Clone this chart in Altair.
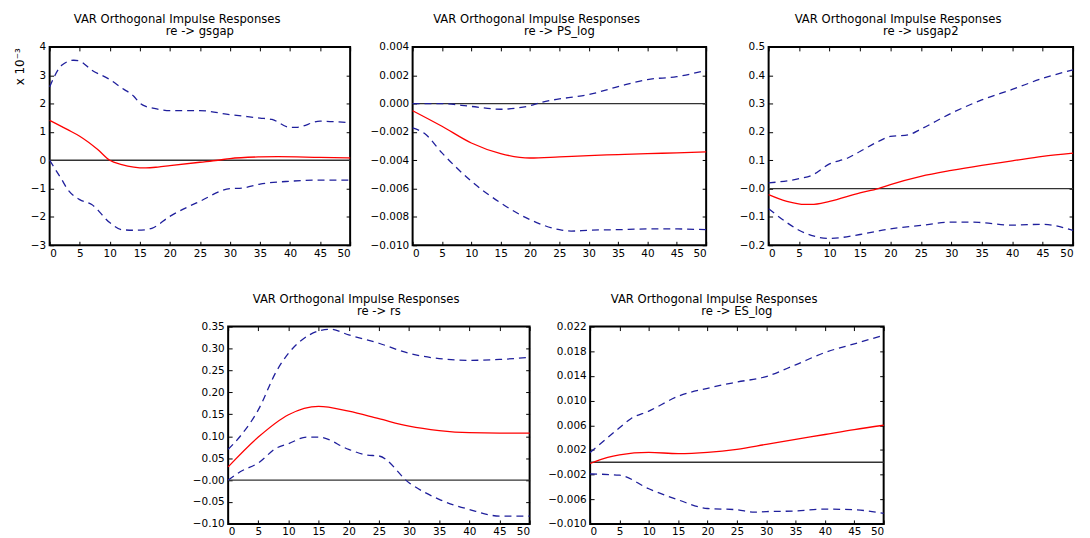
import altair as alt
import pandas as pd

# ---------------- data ----------------
TITLE = "VAR Orthogonal Impulse Responses"
SUBTITLES = ["re -> gsgap", "re -> PS_log", "re -> usgap2", "re -> rs", "re -> ES_log"]

X_TICKS = [0, 5, 10, 15, 20, 25, 30, 35, 40, 45, 50]

# Panel 1 (units of 1e-3)
P1_MID_X = [0, 3, 5, 8, 10, 12, 14, 16, 18, 20, 25, 28, 30, 35, 38, 45, 50]
P1_MID_Y = [1.41, 1.08, 0.85, 0.38, 0.0, -0.15, -0.24, -0.27, -0.24, -0.19, -0.07, 0.0, 0.06, 0.12, 0.13, 0.10, 0.08]
P1_HI_X = [0, 2, 4, 5, 7, 10, 12, 14, 15, 16, 17, 20, 25, 30, 35, 37, 40, 41, 45, 50]
P1_HI_Y = [2.59, 3.35, 3.53, 3.5, 3.18, 2.85, 2.55, 2.26, 2.02, 1.9, 1.85, 1.75, 1.75, 1.61, 1.49, 1.44, 1.16, 1.16, 1.38, 1.32]
P1_LO_X = [0, 2, 3, 5, 7, 10, 12, 14, 16, 17, 20, 25, 30, 32, 35, 40, 45, 50]
P1_LO_Y = [0.0, -0.68, -1.03, -1.39, -1.56, -2.2, -2.45, -2.47, -2.45, -2.4, -1.98, -1.45, -1.0, -0.98, -0.84, -0.74, -0.7, -0.7]

# Panel 2
P2_MID_X = [0, 5, 10, 15, 20, 25, 30, 35, 40, 45, 50]
P2_MID_Y = [-0.0005, -0.0016, -0.00278, -0.00353, -0.00384, -0.00376, -0.00367, -0.0036, -0.00353, -0.00348, -0.00341]
P2_HI_X = [0, 5, 10, 15, 18, 20, 22, 25, 28, 30, 35, 40, 45, 50]
P2_HI_Y = [0.0, 0.0, -0.0002, -0.0004, -0.0003, -0.00015, 0.0001, 0.00033, 0.0005, 0.00064, 0.0012, 0.0017, 0.0019, 0.00235]
P2_LO_X = [0, 2, 5, 10, 15, 20, 25, 27, 30, 35, 40, 45, 50]
P2_LO_Y = [-0.00172, -0.0021, -0.00348, -0.00548, -0.00701, -0.00819, -0.0089, -0.009, -0.00894, -0.0089, -0.00885, -0.00885, -0.0089]

# Panel 3
P3_MID_X = [0, 3, 6, 7, 10, 15, 18, 20, 25, 30, 35, 40, 45, 50]
P3_MID_Y = [-0.021, -0.045, -0.056, -0.056, -0.045, -0.015, 0.0, 0.014, 0.043, 0.064, 0.082, 0.098, 0.114, 0.125]
P3_HI_X = [0, 5, 7, 10, 13, 15, 18, 20, 23, 25, 30, 35, 40, 45, 50]
P3_HI_Y = [0.02, 0.035, 0.046, 0.087, 0.108, 0.131, 0.166, 0.184, 0.19, 0.21, 0.266, 0.313, 0.35, 0.389, 0.419]
P3_LO_X = [0, 3, 5, 7, 10, 15, 20, 25, 30, 33, 35, 40, 45, 50]
P3_LO_Y = [-0.071, -0.12, -0.147, -0.165, -0.176, -0.162, -0.142, -0.13, -0.118, -0.118, -0.12, -0.129, -0.126, -0.148]

# Panel 4
P4_MID_X = [0, 5, 10, 15, 20, 25, 30, 35, 40, 45, 50]
P4_MID_Y = [0.03, 0.098, 0.149, 0.168, 0.157, 0.14, 0.123, 0.113, 0.108, 0.107, 0.107]
P4_HI_X = [0, 2, 5, 8, 10, 12, 15, 17, 20, 25, 30, 35, 40, 45, 50]
P4_HI_Y = [0.07, 0.1, 0.16, 0.248, 0.289, 0.317, 0.34, 0.344, 0.331, 0.312, 0.289, 0.277, 0.273, 0.275, 0.28]
P4_LO_X = [0, 2, 5, 8, 10, 13, 15, 20, 23, 25, 30, 35, 40, 45, 50]
P4_LO_Y = [0.0, 0.019, 0.039, 0.073, 0.083, 0.098, 0.098, 0.07, 0.057, 0.055, -0.006, -0.044, -0.067, -0.082, -0.082]

# Panel 5
P5_MID_X = [0, 3, 5, 10, 15, 20, 25, 30, 35, 40, 45, 50]
P5_MID_Y = [-0.0002, 0.0008, 0.0012, 0.0016, 0.0014, 0.0016, 0.0021, 0.0029, 0.0037, 0.0045, 0.0053, 0.006]
P5_HI_X = [0, 3, 5, 7, 10, 15, 20, 25, 30, 35, 40, 45, 50]
P5_HI_Y = [0.0016, 0.004, 0.0056, 0.0071, 0.0083, 0.0107, 0.012, 0.013, 0.0139, 0.0158, 0.0178, 0.0192, 0.0206]
P5_LO_X = [0, 5, 10, 15, 20, 25, 28, 30, 35, 40, 45, 50]
P5_LO_Y = [-0.0019, -0.0021, -0.0043, -0.0061, -0.0075, -0.0077, -0.0081, -0.008, -0.0079, -0.0076, -0.0077, -0.0083]

# y-axis ticks and their labels
P1_TICKS = [-3, -2, -1, 0, 1, 2, 3, 4]
P1_LABELS = ["−3", "−2", "−1", "0", "1", "2", "3", "4"]
P2_TICKS = [-0.010, -0.008, -0.006, -0.004, -0.002, 0.0, 0.002, 0.004]
P2_LABELS = ["−0.010", "−0.008", "−0.006", "−0.004", "−0.002", "0.000", "0.002", "0.004"]
P3_TICKS = [-0.2, -0.1, 0.0, 0.1, 0.2, 0.3, 0.4, 0.5]
P3_LABELS = ["−0.2", "−0.1", "−0.0", "0.1", "0.2", "0.3", "0.4", "0.5"]
P4_TICKS = [-0.10, -0.05, 0.0, 0.05, 0.10, 0.15, 0.20, 0.25, 0.30, 0.35]
P4_LABELS = ["−0.10", "−0.05", "−0.00", "0.05", "0.10", "0.15", "0.20", "0.25", "0.30", "0.35"]
P5_TICKS = [-0.010, -0.006, -0.002, 0.002, 0.006, 0.010, 0.014, 0.018, 0.022]
P5_LABELS = ["−0.010", "−0.006", "−0.002", "0.002", "0.006", "0.010", "0.014", "0.018", "0.022"]

FONT = "DejaVu Sans"
RED = "#ff0000"
BLUE = "#1f1f9c"


def label_expr(values, labels):
    v = ",".join(repr(float(t)) for t in values)
    lab = ",".join("'" + s + "'" for s in labels)
    return f"[{lab}][indexof([{v}], datum.value)]"


def panel(mid, hi, lo, ydom, yticks, ylabels, sub, w, h, exp_label=None):
    rows = []
    for name, (xs, ys) in (("mid", mid), ("hi", hi), ("lo", lo)):
        for a, b in zip(xs, ys):
            rows.append({"step": a, "val": b, "series": name})
    df = pd.DataFrame(rows)
    xscale = alt.Scale(domain=[0, 50], nice=False, zero=False)
    yscale = alt.Scale(domain=ydom, nice=False, zero=False)

    x_axis = alt.Axis(values=X_TICKS, format="d", domain=False, grid=False,
                      tickSize=4, offset=-4, tickColor="black", labelPadding=3,
                      labelFont=FONT, labelFontSize=10.5, labelColor="black", title=None)
    y_axis = alt.Axis(values=yticks, labelExpr=label_expr(yticks, ylabels), domain=False,
                      grid=False, tickSize=4, offset=-4, tickColor="black", labelPadding=4,
                      labelFont=FONT, labelFontSize=10.5, labelColor="black", title=None)
    x_top = alt.Axis(values=X_TICKS, orient="top", labels=False, domain=False, grid=False,
                     tickSize=4, offset=-4, tickColor="black", title=None)
    y_right = alt.Axis(values=yticks, orient="right", labels=False, domain=False, grid=False,
                       tickSize=4, offset=-4, tickColor="black", title=None)

    base = alt.Chart(df)
    zero = alt.Chart(pd.DataFrame({"z": [0.0]})).mark_rule(color="#333333", strokeWidth=1.3).encode(
        y=alt.Y("z:Q", scale=yscale, axis=None))
    red = base.transform_filter("datum.series == 'mid'").mark_line(
        color=RED, strokeWidth=1.3, interpolate="monotone").encode(
        x=alt.X("step:Q", scale=xscale, axis=x_axis),
        y=alt.Y("val:Q", scale=yscale, axis=y_axis))
    blue = base.transform_filter("datum.series != 'mid'").mark_line(
        color=BLUE, strokeWidth=1.3, strokeDash=[7, 5], interpolate="monotone").encode(
        x=alt.X("step:Q", scale=xscale, axis=None),
        y=alt.Y("val:Q", scale=yscale, axis=None),
        detail="series:N")
    ghost = base.transform_filter("datum.series == 'mid'").mark_line(opacity=0).encode(
        x=alt.X("step:Q", scale=xscale, axis=x_top),
        y=alt.Y("val:Q", scale=yscale, axis=y_right))
    tdf = pd.DataFrame({"t1": [TITLE], "t2": [sub]})
    t1 = alt.Chart(tdf).mark_text(font=FONT, fontSize=11.7, align="center", baseline="alphabetic",
                                  color="black").encode(
        text="t1:N", x=alt.value(w / 2 - 23), y=alt.value(-24))
    t2 = alt.Chart(tdf).mark_text(font=FONT, fontSize=11.7, align="center", baseline="alphabetic",
                                  color="black").encode(
        text="t2:N", x=alt.value(w / 2), y=alt.value(-12))
    layers = [zero, red, blue, ghost, t1, t2]
    if exp_label:
        edf = pd.DataFrame({"e": [exp_label]})
        layers.append(alt.Chart(edf).mark_text(font=FONT, fontSize=12, angle=270, align="center",
                                               baseline="middle", color="black").encode(
            text="e:N", x=alt.value(-30), y=alt.value(20)))
    return alt.layer(*layers).resolve_axis(x="independent", y="independent").properties(
        width=w, height=h)


H = 200
p1 = panel((P1_MID_X, P1_MID_Y), (P1_HI_X, P1_HI_Y), (P1_LO_X, P1_LO_Y), [-3, 4],
           P1_TICKS, P1_LABELS, SUBTITLES[0], 303, H, exp_label="x 10⁻³")
p2 = panel((P2_MID_X, P2_MID_Y), (P2_HI_X, P2_HI_Y), (P2_LO_X, P2_LO_Y), [-0.010, 0.004],
           P2_TICKS, P2_LABELS, SUBTITLES[1], 296, H)
p3 = panel((P3_MID_X, P3_MID_Y), (P3_HI_X, P3_HI_Y), (P3_LO_X, P3_LO_Y), [-0.2, 0.5],
           P3_TICKS, P3_LABELS, SUBTITLES[2], 307, H)
p4 = panel((P4_MID_X, P4_MID_Y), (P4_HI_X, P4_HI_Y), (P4_LO_X, P4_LO_Y), [-0.10, 0.35],
           P4_TICKS, P4_LABELS, SUBTITLES[3], 304, H - 1)
p5 = panel((P5_MID_X, P5_MID_Y), (P5_HI_X, P5_HI_Y), (P5_LO_X, P5_LO_Y), [-0.010, 0.022],
           P5_TICKS, P5_LABELS, SUBTITLES[4], 296, H - 1)

spacer = alt.Chart(pd.DataFrame({"s": [0]})).mark_point(opacity=0).encode(
    x=alt.X("s:Q", axis=None), y=alt.Y("s:Q", axis=None)).properties(
    width=119, height=1, view=alt.ViewBackground(stroke="transparent"))

top = alt.hconcat(p1, p2, p3, spacing=63, bounds="flush")
bottom = alt.hconcat(spacer, p4, p5, spacing=61, bounds="flush")

chart = alt.vconcat(top, bottom, spacing=33).properties(
    padding={"left": 4, "top": 3, "right": 5, "bottom": 5}
).configure_view(stroke="black", strokeWidth=2)

chart.save("out.html", embed_options={"renderer": "svg", "actions": False})
